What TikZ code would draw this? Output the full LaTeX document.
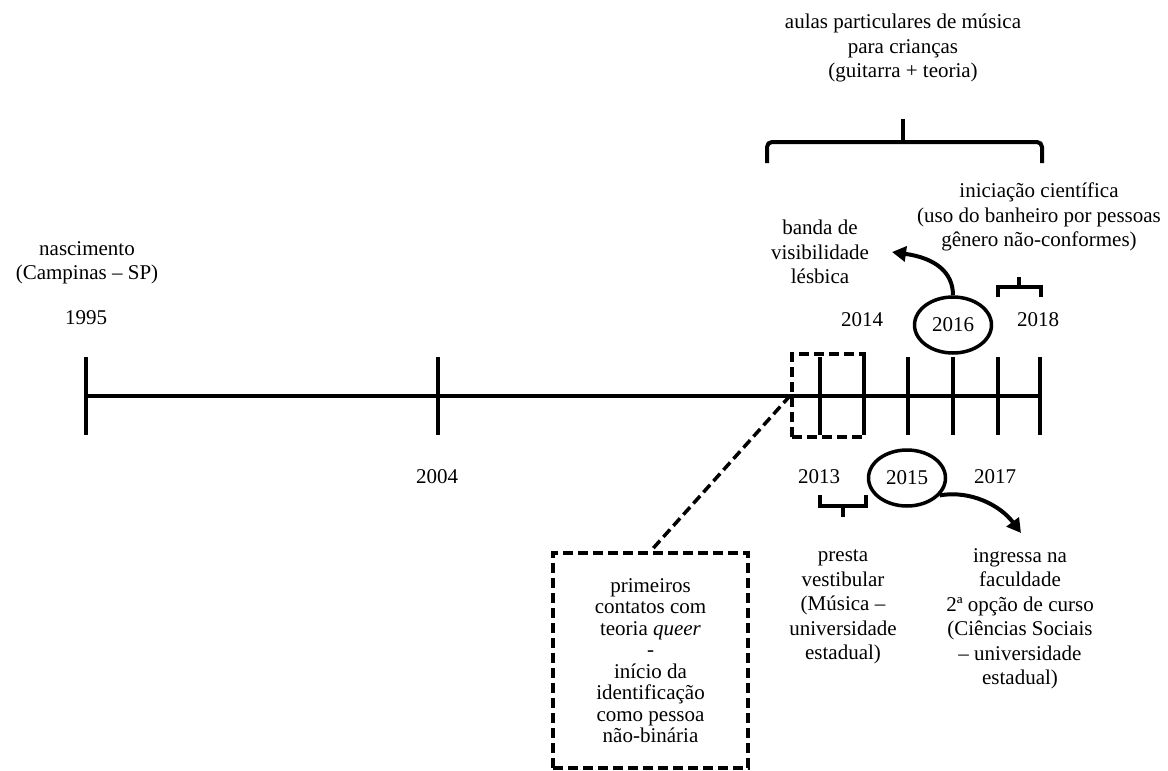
\documentclass[tikz,border=0pt]{standalone}
\usepackage{fontspec}
\setmainfont{Liberation Serif}
\usetikzlibrary{shapes.geometric,arrows.meta}
\begin{document}
\begin{tikzpicture}[x=1pt,y=-1pt,
  every node/.style={font=\fontsize{21}{24.5}\selectfont, inner sep=0pt, align=center},
  axisline/.style={line width=4pt},
  tickmark/.style={line width=4pt},
  bracket/.style={line width=4pt},
  dbox/.style={line width=3.5pt, dash pattern=on 10pt off 5pt},
  yearring/.style={draw, ellipse, line width=3.5pt, minimum width=77pt, minimum height=56pt},
  curvearrow/.style={line width=4pt, -{Triangle[length=14pt,width=15pt]}},
  tight/.style={font=\fontsize{21}{21.5}\selectfont}
]
\useasboundingbox (0,0) rectangle (1168,771);

% time axis and ticks
\coordinate (start) at (86,396);
\coordinate (stop) at (1040,396);
\draw[axisline] (start) -- (stop);
\foreach \x in {86,438,820,864,908,953,998,1040}
  \draw[tickmark] (\x,357) -- (\x,435);

% years
\node (y1995) at (86,318) {1995};
\node (y2004) at (437,477) {2004};
\node (y2013) at (819,477) {2013};
\node (y2014) at (862,320) {2014};
\node[yearring] (y2015) at (907,478) {2015};
\node[yearring] (y2016) at (953,325) {2016};
\node (y2017) at (995,477) {2017};
\node (y2018) at (1038,320) {2018};

% events
\node (birth) at (87,263) {nascimento\\(Campinas – SP)};
\node (aulas) at (903,48) {aulas particulares de música\\para crianças\\(guitarra + teoria)};
\node (ic) at (1039,217) {iniciação científica\\(uso do banheiro por pessoas\\gênero não-conformes)};
\node (banda) at (820,252) {banda de\\visibilidade\\lésbica};
\node (vest) at (843,607) {presta\\vestibular\\(Música –\\universidade\\estadual)};
\node (fac) at (1020,619) {ingressa na\\faculdade\\2ª opção de curso\\(Ciências Sociais\\– universidade\\estadual)};

% highlighted period and its note
\node[dbox, draw, minimum width=72pt, minimum height=83pt] (win) at (828,395.5) {};
\node[dbox, draw, tight, minimum width=195pt, minimum height=215pt] (note) at (650.5,660.5)
  {primeiros\\contatos com\\teoria \textit{queer}\\-\\início da\\identificação\\como pessoa\\não-binária};
\draw[dbox] (win.west) -- (note.north);

% large brace over 2013--2018
\draw[bracket, rounded corners=5pt] (767,163) -- (767,142) -- (1042,142) -- (1042,163);
\draw[bracket] (903,142) -- (903,119);

% small brackets
\draw[bracket] (998,297) -- (998,287) -- (1041,287) -- (1041,297);
\draw[bracket] (1019,287) -- (1019,277);
\draw[bracket] (820,495) -- (820,506) -- (866,506) -- (866,495);
\draw[bracket] (843,506) -- (843,517);

% curved arrows
\coordinate (tip16) at (892,252);
\coordinate (tip15) at (1021,533);
\draw[curvearrow] (y2016.north) .. controls (953,272) and (935,258) .. (tip16);
\draw[curvearrow] (y2015.-28) .. controls (970,490) and (1000,505) .. (tip15);
\end{tikzpicture}
\end{document}
